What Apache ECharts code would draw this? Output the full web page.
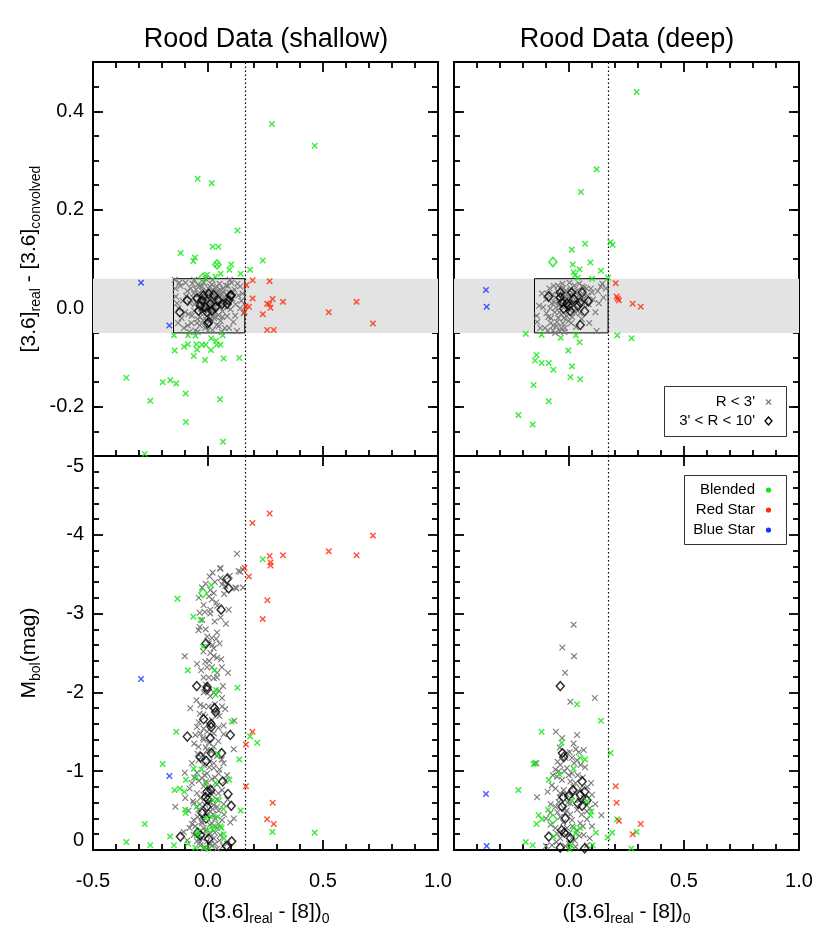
<!DOCTYPE html>
<html><head><meta charset="utf-8">
<script src="https://cdn.jsdelivr.net/npm/echarts@6/dist/echarts.min.js"></script>
<style>html,body{margin:0;padding:0;background:#fff}#chart{width:830px;height:949px}</style>
</head><body><div id="chart"></div>
<script>
// ---------------- DATA ----------------
const panelTitles = ['Rood Data (shallow)', 'Rood Data (deep)'];
const xRange = [-0.5, 1.0];
const xStep = 0.5;
const diffRange = [-0.3, 0.5];
const diffTickValues = [-0.2, 0.0, 0.2, 0.4];
const magRange = [-5, 0];
const bandY = [-0.05, 0.06];
const boxLeft = -0.15;
const colorCut = [0.16, 0.17]; // shallow, deep
const legendTop = ["R < 3'", "3' < R < 10'"];
const legendBottom = ['Blended', 'Red Star', 'Blue Star'];

// top-left: shallow, [3.6]real - [3.6]convolved
const shallowDiffGray = [[-0.145,0.058],[-0.142,0.040],[-0.140,0.024],[-0.128,0.000],[-0.115,-0.020],[-0.105,-0.040],
[-0.090,0.035],[-0.085,-0.012],[-0.078,0.010],[-0.072,-0.030],[-0.068,0.050],[-0.065,0.022],
[-0.060,-0.005],[-0.055,-0.045],[-0.052,0.038],[-0.050,0.012],[-0.046,-0.022],[-0.042,0.028],
[-0.040,0.002],[-0.037,0.045],[-0.035,-0.035],[-0.032,0.018],[-0.030,-0.010],[-0.028,0.036],
[-0.025,0.008],[-0.022,-0.025],[-0.020,0.025],[-0.018,0.052],[-0.016,-0.004],[-0.014,0.015],
[-0.012,-0.040],[-0.010,0.032],[-0.008,0.004],[-0.006,-0.016],[-0.004,0.022],[-0.002,0.010],
[0.000,-0.006],[0.002,0.040],[0.004,0.016],[0.006,-0.028],[0.008,0.006],[0.010,0.028],
[0.012,-0.012],[0.014,0.018],[0.016,0.048],[0.018,0.000],[0.020,-0.044],[0.022,0.030],
[0.024,0.012],[0.026,-0.020],[0.028,0.024],[0.030,0.004],[0.032,0.042],[0.034,-0.008],
[0.036,0.016],[0.038,-0.034],[0.040,0.034],[0.042,0.008],[0.045,-0.014],[0.048,0.022],
[0.050,0.050],[0.052,0.002],[0.055,-0.026],[0.058,0.030],[0.060,0.014],[0.063,-0.006],
[0.066,0.040],[0.070,0.020],[0.073,-0.040],[0.076,0.006],[0.080,0.028],[0.083,-0.016],
[0.086,0.045],[0.090,0.012],[0.094,0.032],[0.098,-0.002],[0.102,0.052],[0.106,0.020],
[0.110,-0.028],[0.115,0.038],[0.120,0.008],[0.126,-0.046],[0.132,0.026],[0.140,0.044],
[0.150,0.030],[0.155,-0.010],[-0.010,0.060],[-0.060,0.058],[0.095,0.058],[-0.098,0.052],
[-0.080,-0.048],[0.140,0.000],[-0.130,-0.030],[0.060,-0.048],[0.020,0.058],
[-0.015,0.005],[0.005,0.000],[0.015,0.010],[-0.005,0.012],[0.025,0.002],[0.035,0.026],
[-0.020,0.015],[0.010,-0.002],[0.045,0.010],[-0.030,0.000],
[-0.135,0.010],[-0.120,0.045],[-0.110,0.015],[-0.100,-0.008],[-0.095,0.025],[-0.088,-0.035],[-0.075,0.040],
[-0.070,-0.015],[-0.062,0.030],[-0.058,0.008],[-0.048,-0.030],[-0.044,0.048],[-0.038,0.020],[-0.034,-0.018],
[-0.026,0.044],[-0.024,-0.002],[-0.018,0.030],[-0.012,0.020],[-0.008,-0.024],[-0.003,0.034],[0.001,0.006],
[0.006,0.024],[0.009,0.044],[0.013,-0.020],[0.019,0.036],[0.023,-0.008],[0.029,0.014],[0.033,-0.018],
[0.039,0.044],[0.043,0.026],[0.047,-0.036],[0.053,0.038],[0.057,0.010],[0.062,-0.018],[0.068,0.032],
[0.078,0.046],[0.085,0.002],[0.092,-0.040],[0.108,0.032],[0.118,-0.015],[0.128,0.050],[0.145,0.015],
[-0.125,0.052],[0.000,-0.045],[-0.045,-0.048]];
const shallowDiffOuter = [[-0.090,0.016],[-0.123,-0.008],[-0.048,0.020],[-0.019,0.026],[0.003,0.029],[0.025,0.027],
[0.046,0.016],[0.097,0.026],[0.090,0.016],[0.083,0.009],[-0.033,0.005],[-0.012,0.002],[0.010,0.009],
[0.032,0.002],[-0.004,-0.008],[-0.001,-0.031],[-0.026,0.016],[0.061,0.009],[-0.041,-0.005],
[0.017,-0.005],[0.101,0.026],[0.003,-0.028]];
const shallowDiffBlend = [[0.278,0.374],[0.464,0.330],[-0.045,0.263],[0.016,0.254],[0.128,0.158],[-0.119,0.112],
[-0.057,0.103],[-0.064,0.096],[0.020,0.125],[0.045,0.125],[0.039,0.089],[0.101,0.089],[0.238,0.097],
[0.183,0.078],[0.142,0.070],[0.093,0.078],[0.055,0.070],[0.032,0.064],[-0.004,0.068],[-0.148,-0.055],
[-0.087,-0.055],[-0.054,-0.056],[0.064,-0.055],[0.014,-0.061],[-0.145,-0.086],[-0.104,-0.078],
[-0.087,-0.073],[-0.051,-0.073],[-0.026,-0.074],[-0.010,-0.074],[-0.048,-0.084],[-0.062,-0.097],
[0.013,-0.085],[0.035,-0.066],[0.038,-0.074],[0.054,-0.074],[-0.013,-0.105],[0.068,-0.102],
[0.136,-0.101],[-0.355,-0.141],[-0.197,-0.150],[-0.164,-0.146],[-0.138,-0.153],[-0.097,-0.173],
[-0.251,-0.188],[0.052,-0.185],[-0.096,-0.231],[0.065,-0.271],[-0.275,-0.296]];
const shallowDiffBlendOuter = [[-0.022,0.062],[0.039,0.089]];
const shallowDiffRed = [[0.167,0.047],[0.194,0.057],[0.268,0.055],[0.164,0.004],[0.178,0.003],[0.194,0.020],
[0.159,-0.008],[0.238,-0.012],[0.257,0.009],[0.267,0.008],[0.272,0.001],[0.281,0.019],[0.326,0.013],
[0.257,-0.044],[0.286,-0.044],[0.525,-0.008],[0.646,0.013],[0.717,-0.031]];
const shallowDiffBlue = [[-0.291,0.052],[-0.168,-0.035]];

// top-right: deep
const deepDiffGray = [[-0.140,-0.015],[-0.138,-0.028],[-0.112,0.002],[-0.105,-0.040],[-0.095,0.030],[-0.090,-0.018],
[-0.085,0.040],[-0.080,-0.030],[-0.075,0.010],[-0.070,-0.045],[-0.066,0.045],[-0.062,-0.008],
[-0.058,0.022],[-0.055,-0.036],[-0.050,0.034],[-0.047,-0.020],[-0.044,0.006],[-0.040,-0.046],
[-0.037,0.040],[-0.034,-0.012],[-0.030,0.018],[-0.027,-0.030],[-0.024,0.028],[-0.021,0.002],
[-0.018,-0.040],[-0.015,0.012],[-0.012,0.036],[-0.010,-0.016],[-0.007,0.020],[-0.004,0.006],
[-0.002,-0.026],[0.000,0.026],[0.003,0.012],[0.006,-0.004],[0.008,0.040],[0.011,0.018],
[0.014,-0.018],[0.017,0.030],[0.020,0.008],[0.024,0.046],[0.028,-0.010],[0.032,0.022],
[0.036,0.036],[0.040,0.000],[0.045,0.050],[0.050,0.016],[0.055,-0.022],[0.060,0.030],
[0.066,0.042],[0.072,0.010],[0.080,0.026],[0.088,-0.030],[0.095,0.040],[0.105,0.018],
[0.115,-0.008],[0.125,0.035],[0.138,0.044],[0.150,0.022],[0.160,0.040],[-0.028,0.050],
[-0.060,-0.050],[0.002,0.052],[-0.020,-0.048],[0.120,-0.046],[0.030,-0.038],[-0.100,0.018],
[-0.045,0.015],[-0.010,0.004],[0.010,0.010],[-0.030,0.008],[0.000,0.016],[-0.020,0.022],
[-0.130,0.005],[-0.125,-0.040],[-0.118,0.030],[-0.098,-0.010],[-0.092,-0.045],[-0.082,0.000],[-0.078,-0.020],
[-0.072,0.028],[-0.068,-0.035],[-0.064,0.012],[-0.056,0.002],[-0.052,-0.028],[-0.048,0.046],[-0.042,-0.008],
[-0.038,0.028],[-0.033,-0.040],[-0.026,0.040],[-0.022,-0.020],[-0.016,0.030],[-0.006,-0.008],[0.004,0.036],
[0.009,-0.030],[0.015,0.024],[0.022,-0.004],[0.026,0.032],[0.034,0.010],[0.042,0.026],[0.048,-0.010],
[0.058,0.044],[0.064,0.020],[0.076,0.040],[0.085,0.008],[0.100,0.032],[0.130,0.010],[0.145,0.050]];
const deepDiffOuter = [[-0.088,0.024],[-0.038,0.032],[0.012,0.032],[0.057,0.032],[-0.030,0.012],[-0.009,0.010],
[0.020,0.019],[0.049,0.012],[0.084,0.014],[0.006,-0.006],[-0.023,-0.001],[0.068,-0.006],[0.049,-0.034],
[-0.038,0.022],[-0.001,0.005],[0.039,0.005]];
const deepDiffBlend = [[0.294,0.439],[0.120,0.282],[0.052,0.236],[0.012,0.119],[0.070,0.131],[0.180,0.134],
[0.190,0.129],[0.016,0.089],[0.093,0.093],[0.046,0.079],[0.020,0.073],[0.026,0.067],[0.139,0.076],
[0.100,0.060],[0.170,0.062],[0.038,0.062],[-0.188,-0.052],[-0.119,-0.054],[-0.036,-0.060],[0.030,-0.055],
[0.046,-0.069],[0.210,-0.055],[0.272,-0.061],[-0.003,-0.086],[-0.141,-0.095],[-0.148,-0.106],
[-0.119,-0.111],[-0.088,-0.111],[-0.068,-0.125],[0.013,-0.118],[0.006,-0.140],[0.049,-0.144],
[-0.154,-0.156],[-0.088,-0.189],[-0.220,-0.217],[-0.158,-0.236]];
const deepDiffBlendOuter = [[-0.070,0.094]];
const deepDiffRed = [[0.203,0.051],[0.207,0.024],[0.217,0.016],[0.212,0.020],[0.277,0.009],[0.312,0.003]];
const deepDiffBlue = [[-0.361,0.037],[-0.358,0.003]];

// bottom-left: shallow, Mbol
const shallowMagGray = [[0.126,-3.76],[0.054,-3.58],[0.133,-3.54],[0.152,-3.56],[0.152,-3.33],[0.119,-3.33],
[0.007,-3.47],[0.068,-3.41],[0.061,-3.37],[0.075,-3.35],[-0.026,-3.33],[0.025,-3.26],[0.004,-3.22],
[0.017,-3.18],[-0.019,-3.11],[0.036,-3.14],[0.010,-3.05],[-0.036,-3.01],[-0.014,-3.02],[0.078,-2.87],
[-0.036,-2.83],[-0.041,-2.79],[0.029,-2.90],[-0.004,-2.71],[0.017,-2.69],[0.039,-2.76],[0.036,-2.68],
[0.003,-2.62],[0.025,-2.56],[0.025,-2.46],[0.039,-2.44],[0.057,-2.42],[-0.101,-2.46],[0.010,-2.50],
[-0.048,-2.36],[-0.012,-2.39],[-0.004,-2.32],[0.017,-2.32],[0.087,-2.25],[-0.019,-2.19],[0.003,-2.19],
[0.025,-2.18],[0.039,-2.19],[0.065,-2.08],[-0.019,-2.00],[0.025,-2.00],[0.061,-1.93],[-0.077,-1.80],
[-0.033,-1.84],[-0.019,-1.82],[0.003,-1.82],[0.061,-1.82],[0.075,-1.79],[-0.036,-1.73],[-0.012,-1.69],
[0.039,-1.75],[0.017,-1.65],[0.114,-1.64],[0.068,-1.58],[-0.048,-1.56],[-0.019,-1.54],[-0.004,-1.50],
[-0.033,-1.48],[-0.055,-1.46],[0.025,-1.48],[0.068,-1.47],[-0.019,-1.40],[0.003,-1.36],[-0.041,-1.31],
[0.025,-1.31],[-0.004,-1.27],[0.112,-1.28],[-0.019,-1.21],[0.039,-1.19],[-0.041,-1.14],[0.007,-1.12],
[0.068,-1.10],[-0.019,-1.08],[0.025,-1.04],[-0.101,-0.98],[-0.048,-0.98],[-0.004,-0.97],[0.046,-0.97],
[0.083,-0.95],[-0.026,-0.91],[0.017,-0.90],[-0.070,-0.85],[0.039,-0.83],[-0.019,-0.81],[0.010,-0.78],
[0.061,-0.76],[-0.048,-0.72],[-0.099,-0.66],[0.017,-0.70],[-0.033,-0.66],[0.039,-0.64],[-0.142,-0.55],
[-0.062,-0.59],[-0.012,-0.57],[0.025,-0.57],[0.068,-0.58],[-0.041,-0.51],[0.010,-0.49],[0.046,-0.50],
[-0.062,-0.38],[-0.004,-0.44],[0.032,-0.40],[0.112,-0.40],[0.061,-0.38],[0.097,-0.35],[-0.026,-0.34],
[0.017,-0.34],[-0.080,-0.28],[-0.019,-0.28],[0.039,-0.28],[-0.106,-0.23],[0.010,-0.21],[-0.062,-0.19],
[0.054,-0.19],[-0.026,-0.15],[0.025,-0.15],[-0.048,-0.11],[-0.004,-0.11],[0.083,-0.08],[-0.033,-0.06],
[0.017,-0.05],[-0.012,-0.03],[0.039,-0.02],
[-0.010,-1.30],[0.015,-1.25],[-0.030,-1.18],[0.005,-1.05],[-0.015,-0.95],[0.030,-0.92],[-0.040,-0.88],
[0.000,-0.80],[0.020,-0.74],[-0.020,-0.70],[0.005,-0.62],[-0.035,-0.58],[0.040,-0.55],[-0.008,-0.48],
[0.022,-0.45],[-0.028,-0.36],[0.008,-0.32],[-0.012,-0.24],[0.030,-0.22],[-0.040,-0.14],[0.012,-0.08],
[-0.020,-0.02],[0.050,-0.12],[-0.055,-0.30],[0.000,-1.60],[-0.020,-1.72],[0.030,-1.85],[0.010,-1.95],
[-0.010,-2.10],[0.040,-2.25],[0.005,-2.40],[0.020,-2.60],[-0.025,-2.92],[0.010,-3.00],[0.040,-3.10],
[0.030,-3.40],[0.055,-3.45],[0.010,-3.30],[0.053,-3.57],[0.140,-3.53],[0.123,-3.32],
[-0.060,-1.35],[-0.045,-1.22],[0.045,-1.38],[0.060,-1.15],[-0.070,-1.10],[0.050,-1.02],[-0.060,-0.92],
[0.075,-0.88],[-0.080,-0.78],[0.045,-0.72],[-0.065,-0.62],[0.085,-0.64],[-0.085,-0.50],[0.020,-0.52],
[-0.045,-0.42],[0.070,-0.45],[-0.070,-0.33],[0.045,-0.33],[-0.090,-0.12],[0.065,-0.05],[-0.035,-0.10],
[0.030,-0.08],[-0.005,-0.18],[-0.025,-0.43],[0.010,-0.60],[-0.008,-0.87],[0.025,-1.10],[-0.022,-1.42],
[0.045,-1.55],[-0.040,-1.62],[0.050,-1.70],[-0.050,-1.90],[0.048,-2.02],[-0.030,-2.28],[0.060,-2.32],
[-0.020,-2.52],[0.050,-2.62],[-0.010,-2.80],[0.055,-2.95],[-0.040,-3.20],[0.070,-3.25],[0.020,-3.52],
[0.095,-3.48],[-0.010,-3.38],[0.090,-3.05]];
const shallowMagOuter = [[0.083,-3.44],[0.090,-3.32],[0.057,-3.05],[-0.009,-2.62],[-0.049,-2.08],[-0.004,-2.07],
[-0.004,-2.04],[0.028,-1.80],[0.033,-1.75],[-0.019,-1.66],[0.013,-1.60],[0.014,-1.56],[-0.090,-1.44],
[0.097,-1.46],[0.010,-1.42],[0.014,-1.23],[0.059,-1.23],[-0.033,-1.18],[-0.007,-1.13],[0.064,-0.87],
[-0.004,-0.74],[0.012,-0.76],[0.087,-0.71],[-0.010,-0.67],[0.000,-0.64],[-0.004,-0.55],[0.101,-0.56],
[-0.026,-0.47],[-0.009,-0.40],[-0.045,-0.22],[-0.120,-0.17],[0.003,-0.14],[-0.033,-0.19],[0.103,-0.11],
[0.080,-0.05]];
const shallowMagBlend = [[0.238,-3.69],[-0.133,-3.19],[0.014,-3.36],[-0.064,-2.96],[-0.032,-2.92],[-0.022,-2.58],
[-0.088,-2.28],[0.028,-2.28],[0.128,-2.06],[0.035,-2.03],[0.033,-1.97],[0.103,-1.63],[-0.138,-1.50],
[0.183,-1.44],[0.214,-1.36],[0.043,-1.22],[0.136,-1.15],[-0.197,-1.09],[-0.062,-1.03],[-0.028,-1.02],
[-0.096,-0.89],[0.093,-0.89],[-0.051,-0.92],[-0.009,-0.84],[-0.145,-0.76],[-0.122,-0.78],[-0.103,-0.74],
[0.033,-0.85],[0.020,-0.63],[0.048,-0.63],[-0.099,-0.51],[-0.097,-0.47],[-0.049,-0.55],[0.067,-0.52],
[0.142,-0.50],[-0.275,-0.33],[-0.009,-0.40],[0.014,-0.42],[0.041,-0.42],[0.025,-0.30],[0.054,-0.30],
[0.280,-0.23],[0.464,-0.22],[-0.355,-0.10],[-0.251,-0.06],[-0.165,-0.17],[-0.148,-0.06],[-0.087,-0.08],
[-0.049,-0.19],[-0.043,-0.23],[-0.001,-0.25],[0.020,-0.26],[0.068,-0.20],[0.070,-0.15],[-0.055,-0.03],
[-0.019,-0.03],[0.003,-0.02],[0.059,-0.28]];
const shallowMagBlendOuter = [[-0.022,-3.26]];
const shallowMagRed = [[0.268,-4.27],[0.193,-4.15],[0.717,-3.99],[0.525,-3.79],[0.646,-3.74],[0.326,-3.74],
[0.268,-3.73],[0.272,-3.65],[0.272,-3.61],[0.159,-3.58],[0.178,-3.47],[0.258,-3.17],[0.238,-2.93],
[0.193,-1.50],[0.165,-1.34],[0.165,-0.81],[0.281,-0.60],[0.257,-0.39],[0.286,-0.33]];
const shallowMagBlue = [[-0.291,-2.17],[-0.168,-0.94]];

// bottom-right: deep, Mbol
const deepMagGray = [[0.020,-2.86],[-0.029,-2.57],[0.022,-2.46],[-0.017,-2.25],[0.112,-1.93],[0.006,-1.88],
[-0.057,-1.50],[0.035,-1.46],[0.064,-1.27],[0.042,-1.24],[0.003,-1.24],[-0.016,-1.17],[0.013,-1.17],
[0.035,-1.14],[-0.142,-1.10],[-0.059,-1.02],[-0.045,-1.00],[-0.009,-1.04],[0.013,-0.97],[0.038,-0.95],
[-0.030,-0.89],[0.006,-0.87],[0.028,-0.85],[0.096,-0.85],[-0.093,-0.74],[-0.059,-0.78],[-0.023,-0.76],
[-0.139,-0.67],[-0.009,-0.70],[0.028,-0.72],[0.064,-0.66],[-0.045,-0.61],[0.006,-0.59],[0.114,-0.58],
[-0.059,-0.55],[-0.023,-0.53],[0.035,-0.51],[0.078,-0.49],[0.141,-0.44],[-0.081,-0.47],[-0.038,-0.42],
[0.013,-0.38],[0.078,-0.39],[0.100,-0.30],[-0.059,-0.28],[-0.009,-0.28],[0.035,-0.25],[-0.052,-0.21],
[0.064,-0.19],[-0.038,-0.15],[0.013,-0.15],[-0.074,-0.06],[-0.016,-0.05],[0.028,-0.04],[0.078,-0.06],
[-0.001,-0.21],[0.049,-0.34],[-0.016,-0.47],[0.013,-0.68],[-0.038,-0.72],[0.049,-0.78],[-0.001,-0.95],
[-0.038,-1.08],[0.022,-1.10],[-0.009,-1.23],[-0.052,-0.93],
[-0.070,-0.95],[-0.050,-1.12],[0.050,-1.08],[0.060,-0.92],[-0.075,-0.82],[0.080,-0.80],[-0.040,-0.67],
[0.045,-0.63],[-0.080,-0.58],[0.090,-0.53],[-0.050,-0.48],[0.055,-0.45],[-0.025,-0.35],[0.060,-0.30],
[-0.080,-0.32],[0.025,-0.12],[-0.055,-0.10],[0.090,-0.15],[-0.025,-0.22],[0.015,-0.30],[-0.010,-0.50],
[0.020,-0.80],[-0.020,-1.00],[0.030,-1.28],[-0.040,-1.30],[0.020,-1.35],[-0.030,-1.42],[0.070,-1.05],
[0.100,-0.70],[-0.100,-0.40],[0.005,-0.45],[-0.005,-0.60],[0.045,-0.18],[-0.100,-0.05],[0.000,-0.08]];
const deepMagOuter = [[-0.038,-2.08],[-0.029,-1.23],[-0.023,-1.18],[0.057,-0.87],[0.017,-0.76],[0.068,-0.74],
[-0.026,-0.67],[-0.001,-0.69],[0.049,-0.70],[0.078,-0.63],[-0.030,-0.55],[0.039,-0.59],[0.057,-0.56],
[-0.016,-0.40],[-0.032,-0.25],[-0.020,-0.22],[0.006,-0.15],[-0.088,-0.17],[-0.038,-0.03],[0.068,-0.02]];
const deepMagBlend = [[0.035,-1.85],[0.139,-1.64],[-0.119,-1.50],[-0.032,-1.36],[0.181,-1.23],[0.049,-1.17],
[0.070,-1.15],[-0.154,-1.09],[-0.148,-1.10],[0.020,-1.03],[-0.041,-0.96],[-0.088,-0.89],[-0.220,-0.76],
[0.078,-0.62],[0.012,-0.63],[-0.091,-0.51],[0.097,-0.49],[0.093,-0.44],[-0.132,-0.44],[-0.117,-0.39],
[-0.141,-0.33],[0.020,-0.28],[0.049,-0.28],[0.028,-0.21],[0.117,-0.22],[0.209,-0.39],[0.188,-0.22],
[0.294,-0.23],[0.168,-0.16],[-0.188,-0.10],[-0.158,-0.06],[-0.067,-0.17],[0.103,-0.06],[0.009,-0.06],
[0.271,-0.02],[0.003,-0.01]];
const deepMagBlendOuter = [[-0.070,-0.39]];
const deepMagRed = [[0.203,-0.81],[0.207,-0.60],[0.217,-0.37],[0.312,-0.33],[0.277,-0.20]];
const deepMagBlue = [[-0.361,-0.71],[-0.358,-0.05]];

// ---------------- CHART ----------------
const FONT = '"Liberation Sans", Arial, Helvetica, sans-serif';
const C_GRAY = '#7a7a7a', C_GREEN = '#11e611', C_RED = '#ff2a0a', C_BLUE = '#1a33ff';
const X_THIN = 'path://M0,1.2L1.2,0L5,3.8L8.8,0L10,1.2L6.2,5L10,8.8L8.8,10L5,6.2L1.2,10L0,8.8L3.8,5Z';
const X_BOLD = 'path://M0,1.6L1.6,0L5,3.4L8.4,0L10,1.6L6.6,5L10,8.4L8.4,10L5,6.6L1.6,10L0,8.4L3.4,5Z';

const W = 345, H = 394;
const gridPos = [[93,62],[454,62],[93,456],[454,456]];
const panels = [
  {kind:'diff', col:0, gray:shallowDiffGray, outer:shallowDiffOuter, blend:shallowDiffBlend, blendOuter:shallowDiffBlendOuter, red:shallowDiffRed, blue:shallowDiffBlue},
  {kind:'diff', col:1, gray:deepDiffGray, outer:deepDiffOuter, blend:deepDiffBlend, blendOuter:deepDiffBlendOuter, red:deepDiffRed, blue:deepDiffBlue},
  {kind:'mag', col:0, gray:shallowMagGray, outer:shallowMagOuter, blend:shallowMagBlend, blendOuter:shallowMagBlendOuter, red:shallowMagRed, blue:shallowMagBlue},
  {kind:'mag', col:1, gray:deepMagGray, outer:deepMagOuter, blend:deepMagBlend, blendOuter:deepMagBlendOuter, red:deepMagRed, blue:deepMagBlue}
];

const axLine = {show:true, onZero:false, lineStyle:{color:'#000', width:2}};
const tickLS = {color:'#000', width:1.8};
const labelBase = {fontSize:20, color:'#000', fontFamily:FONT};
const richName = {
  m:{fontSize:21, lineHeight:24, verticalAlign:'top', fontFamily:FONT, color:'#000'},
  s:{fontSize:14, lineHeight:11, verticalAlign:'bottom', fontFamily:FONT, color:'#000'}
};

const grids = [], xAxes = [], yAxes = [], series = [];
panels.forEach((p, g) => {
  grids.push({left:gridPos[g][0], top:gridPos[g][1], width:W, height:H, containLabel:false, outerBoundsMode:'none'});
  const isBottomRow = p.kind === 'mag';
  const xi = xAxes.length;
  xAxes.push({type:'value', gridIndex:g, position:'bottom', min:xRange[0], max:xRange[1], interval:xStep,
    axisLine:axLine, axisTick:{show:true, inside:true, length:10, lineStyle:tickLS},
    minorTick:{show:true, splitNumber:5, length:6, lineStyle:tickLS},
    splitLine:{show:false}, minorSplitLine:{show:false},
    axisLabel:Object.assign({show:isBottomRow, margin:21, showMinLabel:p.col===0, showMaxLabel:true,
      formatter:v=>v.toFixed(1)}, labelBase),
    name: isBottomRow ? '{m|([3.6]}{s|real}{m| - [8])}{s|0}' : '',
    nameLocation:'middle', nameGap:52, nameTextStyle:{rich:richName}
  });
  xAxes.push({type:'value', gridIndex:g, position:'top', min:xRange[0], max:xRange[1], interval:xStep,
    axisLine:axLine, axisTick:{show:true, inside:true, length:10, lineStyle:tickLS},
    minorTick:{show:!isBottomRow, splitNumber:5, length:6, lineStyle:tickLS},
    splitLine:{show:false}, minorSplitLine:{show:false}, axisLabel:{show:false}
  });
  let yi;
  if (p.kind === 'diff') {
    yi = yAxes.length;
    ['left','right'].forEach(pos => {
      yAxes.push({type:'value', gridIndex:g, position:pos, min:diffRange[0], max:diffRange[1], interval:0.05,
        axisLine:axLine, axisTick:{show:true, inside:true, length:6, lineStyle:tickLS},
        splitLine:{show:false}, axisLabel:{show:false}});
    });
    ['left','right'].forEach(pos => {
      const lab = pos==='left' && p.col===0;
      yAxes.push({type:'value', gridIndex:g, position:pos, min:diffRange[0], max:diffRange[1], interval:0.1,
        axisLine:{show:false, onZero:false},
        axisTick:{show:true, inside:true, length:10, lineStyle:tickLS, customValues:diffTickValues},
        splitLine:{show:false},
        axisLabel:Object.assign({show:lab, margin:9, customValues:diffTickValues, formatter:v=>v.toFixed(1)}, labelBase),
        name: lab ? '{m|[3.6]}{s|real}{m| - [3.6]}{s|convolved}' : '',
        nameLocation:'middle', nameRotate:90, nameGap:50, nameTextStyle:{rich:richName}
      });
    });
  } else {
    yi = yAxes.length;
    ['left','right'].forEach(pos => {
      const lab = pos==='left' && p.col===0;
      yAxes.push({type:'value', gridIndex:g, position:pos, min:magRange[0], max:magRange[1], interval:1, inverse:true,
        axisLine:axLine, axisTick:{show:true, inside:true, length:10, lineStyle:tickLS},
        minorTick:{show:true, splitNumber:5, length:6, lineStyle:tickLS},
        splitLine:{show:false}, minorSplitLine:{show:false},
        axisLabel:Object.assign({show:lab, margin:9, verticalAlignMinLabel:'top', verticalAlignMaxLabel:'bottom',
          formatter:v=>String(v)}, labelBase),
        name: lab ? '{m|M}{s|bol}{m|(mag)}' : '',
        nameLocation:'middle', nameRotate:90, nameGap:50, nameTextStyle:{rich:richName}
      });
    });
  }
  const cut = colorCut[p.col];
  const markAreaData = p.kind === 'diff' ? [
    [{yAxis:bandY[0], itemStyle:{color:'#e3e3e3', borderWidth:0}}, {yAxis:bandY[1]}],
    [{xAxis:boxLeft, yAxis:bandY[0], itemStyle:{color:'rgba(0,0,0,0)', borderColor:'#000', borderWidth:1}}, {xAxis:cut, yAxis:bandY[1]}]
  ] : [];
  const base = {type:'scatter', xAxisIndex:xi, yAxisIndex:yi, silent:true, animation:false, emphasis:{disabled:true}};
  series.push(Object.assign({}, base, {name:'gray'+g, data:p.gray, symbol:X_THIN, symbolSize:6.5, z:3,
    itemStyle:{color:C_GRAY, opacity:1},
    markArea:{silent:true, data:markAreaData, label:{show:false}},
    markLine:{silent:true, symbol:['none','none'], label:{show:false}, animation:false,
      lineStyle:{type:[1.5,2.5], color:'#000', width:1.2}, data:[{xAxis:cut}]}
  }));
  series.push(Object.assign({}, base, {name:'outer'+g, data:p.outer, symbol:'diamond', symbolSize:[8,9], z:4,
    itemStyle:{color:'rgba(0,0,0,0)', borderColor:'#000', borderWidth:1.5}}));
  series.push(Object.assign({}, base, {name:'blend'+g, data:p.blend, symbol:X_BOLD, symbolSize:6.5, z:5,
    itemStyle:{color:C_GREEN}}));
  series.push(Object.assign({}, base, {name:'blendOuter'+g, data:p.blendOuter, symbol:'diamond', symbolSize:[8,9], z:5,
    itemStyle:{color:'rgba(0,0,0,0)', borderColor:C_GREEN, borderWidth:1.6}}));
  series.push(Object.assign({}, base, {name:'red'+g, data:p.red, symbol:X_BOLD, symbolSize:6.5, z:6,
    itemStyle:{color:C_RED}}));
  series.push(Object.assign({}, base, {name:'blue'+g, data:p.blue, symbol:X_BOLD, symbolSize:6.5, z:6,
    itemStyle:{color:C_BLUE}}));
});

function txt(x, y, text, size, align) {
  return {type:'text', x:x, y:y, z:100, silent:true,
    style:{text:text, fontSize:size, fontFamily:FONT, fill:'#000', align:align, textAlign:align,
      verticalAlign:'middle', textVerticalAlign:'middle'}};
}
const graphics = [
  txt(266, 40, panelTitles[0], 27, 'center'),
  txt(627, 40, panelTitles[1], 27, 'center'),
  // top-right legend
  {type:'rect', z:90, silent:true, shape:{x:664.5, y:386.5, width:122, height:50}, style:{fill:'#fff', stroke:'#333', lineWidth:1}},
  txt(755, 402, legendTop[0], 15, 'right'),
  txt(755, 421, legendTop[1], 15, 'right'),
  {type:'line', z:100, silent:true, shape:{x1:766, y1:399.5, x2:771, y2:404.5}, style:{stroke:C_GRAY, lineWidth:1.2}},
  {type:'line', z:100, silent:true, shape:{x1:766, y1:404.5, x2:771, y2:399.5}, style:{stroke:C_GRAY, lineWidth:1.2}},
  {type:'polygon', z:100, silent:true, shape:{points:[[768.5,417],[772,421],[768.5,425],[765,421]]}, style:{fill:'none', stroke:'#000', lineWidth:1.3}},
  // bottom-right legend
  {type:'rect', z:90, silent:true, shape:{x:684.5, y:475.5, width:102, height:69}, style:{fill:'#fff', stroke:'#333', lineWidth:1}},
  txt(755, 490, legendBottom[0], 15, 'right'),
  txt(755, 510, legendBottom[1], 15, 'right'),
  txt(755, 530, legendBottom[2], 15, 'right'),
  {type:'circle', z:100, silent:true, shape:{cx:768.5, cy:490, r:2.6}, style:{fill:C_GREEN}},
  {type:'circle', z:100, silent:true, shape:{cx:768.5, cy:510, r:2.6}, style:{fill:C_RED}},
  {type:'circle', z:100, silent:true, shape:{cx:768.5, cy:530, r:2.6}, style:{fill:C_BLUE}}
];

const chart = echarts.init(document.getElementById('chart'), null, {renderer:'canvas'});
chart.setOption({
  animation:false,
  backgroundColor:'#fff',
  grid:grids, xAxis:xAxes, yAxis:yAxes, series:series, graphic:graphics
});
</script></body></html>
